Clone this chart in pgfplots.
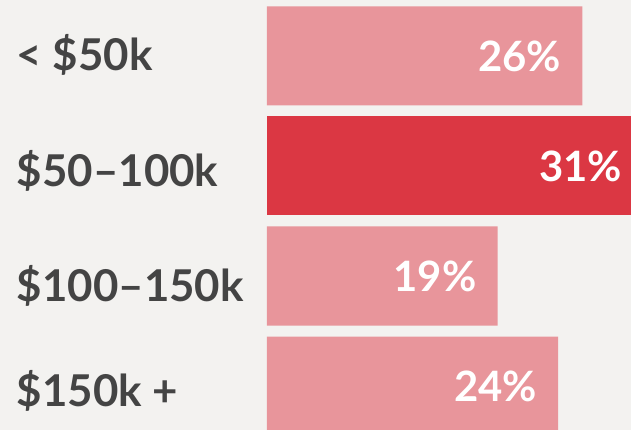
\documentclass[border=0pt]{standalone}
\usepackage{pgfplots}
\pgfplotsset{compat=1.18}
\usepackage{fontspec}
\setmainfont{Lato}
\definecolor{bgcol}{HTML}{F3F2F0}
\definecolor{lightbar}{HTML}{E8959B}
\definecolor{darkbar}{HTML}{DB3743}
\definecolor{txt}{HTML}{444444}
\begin{document}
\begin{tikzpicture}
\fill[bgcol] (0,0) rectangle (631bp,430bp);
\begin{axis}[
  at={(0,0)}, anchor=south west,
  scale only axis, width=631bp, height=430bp,
  clip=false,
  xbar, bar shift=0pt, bar width=0.9,
  xmin=-22.0, xmax=30.0,
  ymin=-0.509, ymax=3.4, y dir=reverse,
  axis line style={draw=none}, tick style={draw=none},
  xtick=\empty,
  ytick={-0.01,1.045,2.09,3.045},
  yticklabels={{< \$50k},{\$50--100k},{\$100--150k},{\$150k +}},
  yticklabel style={anchor=west, inner sep=0pt, xshift=21bp, text=txt, font=\fontsize{44}{44}\bfseries\selectfont},
  nodes near coords={\pgfmathprintnumber[assume math mode=true]{\pgfplotspointmeta}\%},
  point meta=x,
  every node near coord/.append style={anchor=east, inner sep=0pt, xshift=-21bp, text=white, font=\fontsize{42}{42}\bfseries\selectfont},
]
\addplot[fill=lightbar, draw=none] coordinates {(26,0) (19,2) (24,3)};
\addplot[fill=darkbar, draw=none] coordinates {(31,1)};
\end{axis}
\pgfresetboundingbox
\useasboundingbox (0,0) rectangle (631bp,430bp);
\end{tikzpicture}
\end{document}
